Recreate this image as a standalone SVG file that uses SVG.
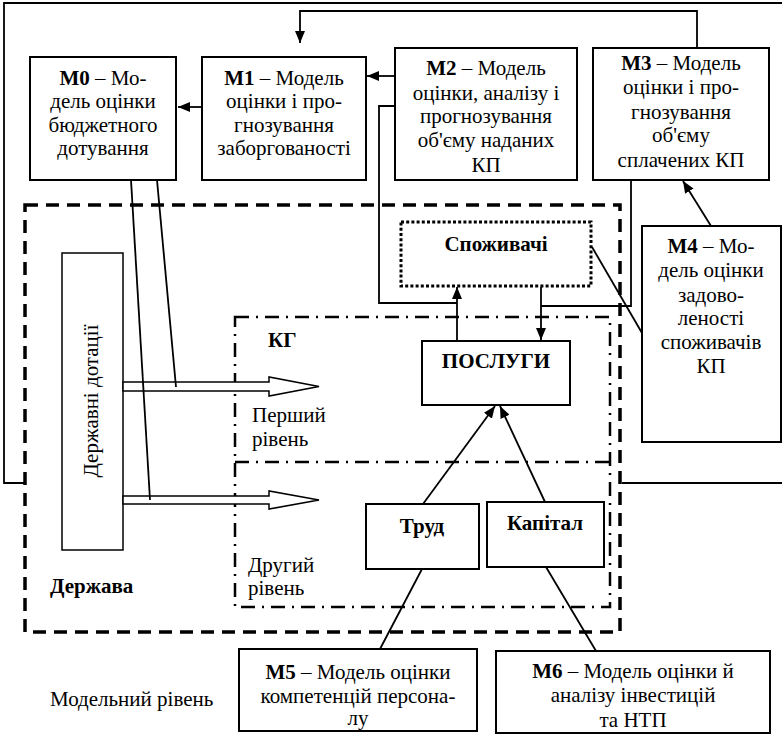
<svg xmlns="http://www.w3.org/2000/svg" width="782" height="734" viewBox="0 0 782 734">
<defs>
<marker id="ah" viewBox="0 0 12 10" refX="12" refY="5" markerWidth="12" markerHeight="10" markerUnits="userSpaceOnUse" orient="auto">
<path d="M0,0 L12,5 L0,10 Z" fill="#000"/>
</marker>
</defs>
<style>
.box{fill:#fff;stroke:#000;stroke-width:2}
.thin{fill:#fff;stroke:#000;stroke-width:1.5}
.ln{fill:none;stroke:#000;stroke-width:1.8}
.ar{fill:none;stroke:#000;stroke-width:1.8;marker-end:url(#ah)}
.t{font-family:"Liberation Serif","Times New Roman",serif;font-size:21px;fill:#000;text-anchor:middle}
.l{font-family:"Liberation Serif","Times New Roman",serif;font-size:21px;fill:#000}
.b{font-weight:bold}
</style>
<rect width="782" height="734" fill="#fff"/>

<g id="frame">
<path class="ln" d="M25,483 H4 V3 H782"/>
<path class="ln" d="M622,483 H782"/>
</g>

<g id="derzhava">
<rect x="25" y="205" width="595" height="427" fill="none" stroke="#000" stroke-width="3.5" stroke-dasharray="13 8"/>
<text class="l b" x="50" y="593">Держава</text>
</g>

<g id="kg">
<rect x="235" y="317" width="375" height="290" fill="none" stroke="#000" stroke-width="2.5" stroke-dasharray="14 7 2 7"/>
<line x1="235" y1="462" x2="610" y2="462" stroke="#000" stroke-width="2.5" stroke-dasharray="14 7 2 7"/>
<text class="l b" x="268" y="347">КГ</text>
<text class="l" x="252" y="422">Перший</text>
<text class="l" x="252" y="446">рівень</text>
<text class="l" x="248" y="572">Другий</text>
<text class="l" x="248" y="595">рівень</text>
</g>

<g id="model-level">
<text class="l" x="50" y="706">Модельний рівень</text>
</g>

<g id="dotatsii">
<rect class="thin" x="62" y="253" width="61" height="297"/>
<text class="t" transform="translate(98,401) rotate(-90)">Державні дотації</text>
</g>

<g id="flow-arrows">
<polygon class="thin" points="123,382 269,382 269,377 319,386.5 269,396 269,391 123,391"/>
<polygon class="thin" points="123,496 269,496 269,491 319,500 269,509 269,504 123,504"/>
</g>

<g id="m0">
<rect class="box" x="30" y="57" width="146" height="123"/>
<text class="t" x="103" y="85"><tspan class="b">М0</tspan> – Мо-</text>
<text class="t" x="103" y="108">дель оцінки</text>
<text class="t" x="103" y="132">бюджетного</text>
<text class="t" x="103" y="155">дотування</text>
</g>

<g id="m1">
<rect class="box" x="202" y="57" width="164" height="123"/>
<text class="t" x="284" y="85"><tspan class="b">М1</tspan> – Модель</text>
<text class="t" x="284" y="108">оцінки і про-</text>
<text class="t" x="284" y="132">гнозування</text>
<text class="t" x="284" y="155">заборгованості</text>
</g>

<g id="m2">
<rect class="box" x="395" y="48" width="182" height="132"/>
<text class="t" x="486" y="75"><tspan class="b">М2</tspan> – Модель</text>
<text class="t" x="486" y="100">оцінки, аналізу і</text>
<text class="t" x="486" y="123">прогнозування</text>
<text class="t" x="486" y="147">об'єму наданих</text>
<text class="t" x="486" y="172">КП</text>
</g>

<g id="m3">
<rect class="box" x="593" y="48" width="176" height="132"/>
<text class="t" x="681" y="70"><tspan class="b">М3</tspan> – Модель</text>
<text class="t" x="681" y="94">оцінки і про-</text>
<text class="t" x="681" y="119">гнозування</text>
<text class="t" x="681" y="142">об'єму</text>
<text class="t" x="681" y="167">сплачених КП</text>
</g>

<g id="m4">
<rect class="box" x="642" y="226" width="139" height="216"/>
<text class="t" x="711" y="253"><tspan class="b">М4</tspan> – Мо-</text>
<text class="t" x="711" y="277">дель оцінки</text>
<text class="t" x="711" y="302">задово-</text>
<text class="t" x="711" y="325">леності</text>
<text class="t" x="711" y="349">споживачів</text>
<text class="t" x="711" y="373">КП</text>
</g>

<g id="spozhyvachi">
<rect x="401" y="222" width="190" height="64" fill="#fff" stroke="#000" stroke-width="3" stroke-dasharray="3 2.2"/>
<text class="t b" x="496" y="251">Споживачі</text>
</g>

<g id="posluhy">
<rect class="box" x="422" y="341" width="148" height="64"/>
<text class="t b" x="496" y="368">ПОСЛУГИ</text>
</g>

<g id="trud">
<rect class="box" x="366" y="504" width="113" height="65"/>
<text class="t b" x="422" y="533">Труд</text>
</g>

<g id="kapital">
<rect class="box" x="487" y="502" width="117" height="65"/>
<text class="t b" x="545" y="530">Капітал</text>
</g>

<g id="m5">
<rect class="box" x="239" y="649" width="238" height="82"/>
<text class="t" x="358" y="679"><tspan class="b">М5</tspan> – Модель оцінки</text>
<text class="t" x="358" y="703">компетенцій персона-</text>
<text class="t" x="358" y="725">лу</text>
</g>

<g id="m6">
<rect class="box" x="496" y="651" width="274" height="82"/>
<text class="t" x="633" y="678"><tspan class="b">М6</tspan> – Модель оцінки й</text>
<text class="t" x="633" y="702">аналізу інвестицій</text>
<text class="t" x="633" y="727">та НТП</text>
</g>

<g id="connectors">
<path class="ar" d="M697,48 V11 H300 V43"/>
<path class="ar" d="M395,76 H367"/>
<path class="ar" d="M202,107 H178"/>
<path class="ln" d="M395,106 H379 V303 H457"/>
<path class="ar" d="M457,341 V287"/>
<path class="ln" d="M631,180 V306 H541"/>
<path class="ar" d="M541,287 V340"/>
<path class="ar" d="M711,226 L683,181"/>
<path class="ln" d="M592,247 L642,333"/>
<path class="ar" d="M423,504 L495,406"/>
<path class="ar" d="M545,502 L500,406"/>
<path class="ln" d="M422,569 L380,649"/>
<path class="ln" d="M546,567 L596,651"/>
<path class="ln" d="M131,180 L150,500"/>
<path class="ln" d="M157,180 L176,387"/>
</g>
</svg>
